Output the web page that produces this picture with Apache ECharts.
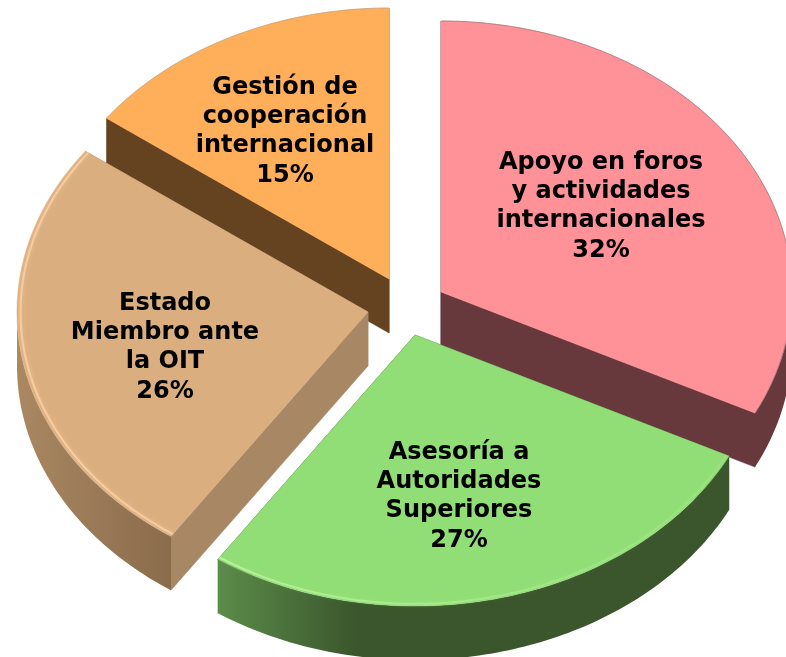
<!DOCTYPE html>
<html><head><meta charset="utf-8">
<style>html,body{margin:0;padding:0;background:#fff}#c{width:786px;height:657px}</style>
<script src="https://cdn.jsdelivr.net/npm/echarts@6/dist/echarts.min.js"></script>
</head><body><div id="c"></div>
<script>
const categories = [
  'Apoyo en foros\ny actividades\ninternacionales',
  'Asesoría a\nAutoridades\nSuperiores',
  'Estado\nMiembro ante\nla OIT',
  'Gestión de\ncooperación\ninternacional'
];
const shares = [32, 27, 26, 15];

// drawing geometry and styles
const apexX = [441, 415, 368, 389];
const apexY = [292, 335, 312, 279];
const labelX = [601, 459, 165, 285];
const labelY = [206.5, 496.5, 347.5, 131.5];
const drawRank = [1, 3, 2, 0];
const topColors = ['#ff9198', '#92de76', '#dbae80', '#ffae5a'];
const sideColors = ['#67383c', '#3b562c', '#a88864', '#654321'];
const rimStart = ['#67383c', '#5b8c4a', '#a98862', '#654321'];
const rimEnd = ['#67383c', '#3b562c', '#8a6b4b', '#654321'];
const rimStop = [0.3, 0.27, 1, 0.3];
const glowStart = ['rgba(120,100,100,0.55)', 'rgba(200,250,175,0.7)', 'rgba(255,214,170,0.7)', 'rgba(170,150,130,0.5)'];
const glowEnd = ['rgba(120,100,100,0.55)', 'rgba(165,232,140,0.35)', 'rgba(255,214,170,0.7)', 'rgba(170,150,130,0.5)'];
const glowWidth = [1, 2, 2, 1];
const glowInset = [1, 0.992, 0.99, 1];
const glowBlur = [0, 4, 4, 0];
const rx = 351, ry = 271, depth = 54;
const viewSkew = 0.033; // perspective shift of the boundaries on the tilted disc

const total = shares.reduce((a, b) => a + b, 0);
const startFraction = i => shares.slice(0, i).reduce((a, b) => a + b, 0) / total;

function pt(cx, cy, t) {
  const s = Math.sin(t / 2);
  const v = t + viewSkew * s * s;
  return [cx + rx * Math.sin(v), cy - ry * Math.cos(v)];
}
function arcPts(cx, cy, t0, t1) {
  const n = Math.max(2, Math.ceil((t1 - t0) * 60)), out = [];
  for (let k = 0; k <= n; k++) out.push(pt(cx, cy, t0 + (t1 - t0) * k / n));
  return out;
}
const down = p => [p[0], p[1] + depth];

function renderItem(params, api) {
  const i = params.dataIndex;
  const share = api.value(0);
  const t0 = startFraction(i) * 2 * Math.PI;
  const t1 = t0 + share / total * 2 * Math.PI;
  const cx = apexX[i], cy = apexY[i], z = drawRank[i] * 10;
  const apex = [cx, cy];
  const children = [];
  const poly = (points, fill, zz) => ({
    type: 'polygon', shape: { points }, style: { fill, stroke: fill, lineWidth: 0.5 }, z2: z + zz, silent: true
  });
  [t0, t1].forEach(t => {
    const e = pt(cx, cy, t);
    children.push(poly([apex, e, down(e), down(apex)], sideColors[i], 0));
  });
  const a = Math.max(t0, Math.PI / 2), b = Math.min(t1, 3 * Math.PI / 2);
  if (b > a) {
    const upper = arcPts(cx, cy, a, b);
    const xs = upper.map(p => p[0]);
    const minX = Math.min(...xs), maxX = Math.max(...xs);
    const fill = {
      type: 'linear', x: minX, y: 0, x2: maxX, y2: 0, global: true,
      colorStops: [
        { offset: 0, color: rimStart[i] },
        { offset: rimStop[i], color: rimEnd[i] },
        { offset: 1, color: rimEnd[i] }
      ]
    };
    children.push({
      type: 'polygon', z2: z + 1, silent: true,
      shape: { points: upper.concat(upper.slice().reverse().map(down)) },
      style: { fill, stroke: null }
    });
  }
  const rim = arcPts(cx, cy, t0, t1);
  children.push(poly([apex].concat(rim), topColors[i], 2));
  const glowPts = rim.map(p => [cx + (p[0] - cx) * glowInset[i], cy + (p[1] - cy) * glowInset[i]]);
  const gx = glowPts.map(p => p[0]);
  children.push({
    type: 'polyline', z2: z + 3, silent: true,
    shape: { points: glowPts },
    style: {
      fill: null, lineWidth: glowWidth[i],
      stroke: {
        type: 'linear', x: Math.min(...gx), y: 0, x2: Math.max(...gx), y2: 0, global: true,
        colorStops: [{ offset: 0, color: glowStart[i] }, { offset: 1, color: glowEnd[i] }]
      },
      shadowBlur: glowBlur[i], shadowColor: glowEnd[i]
    }
  });
  children.push({
    type: 'text', z2: z + 4, silent: true,
    style: {
      x: labelX[i], y: labelY[i],
      text: categories[i] + '\n' + share + '%',
      align: 'center', verticalAlign: 'middle',
      font: 'bold 24px "DejaVu Sans"', lineHeight: 29.2, fill: '#000'
    }
  });
  return { type: 'group', children };
}

const chart = echarts.init(document.getElementById('c'), null, { renderer: 'canvas' });
chart.setOption({
  animation: false,
  backgroundColor: '#fff',
  series: [{
    type: 'custom',
    coordinateSystem: 'none',
    renderItem,
    data: shares.map((v, i) => ({ name: categories[i], value: [v] }))
  }]
});
</script></body></html>
